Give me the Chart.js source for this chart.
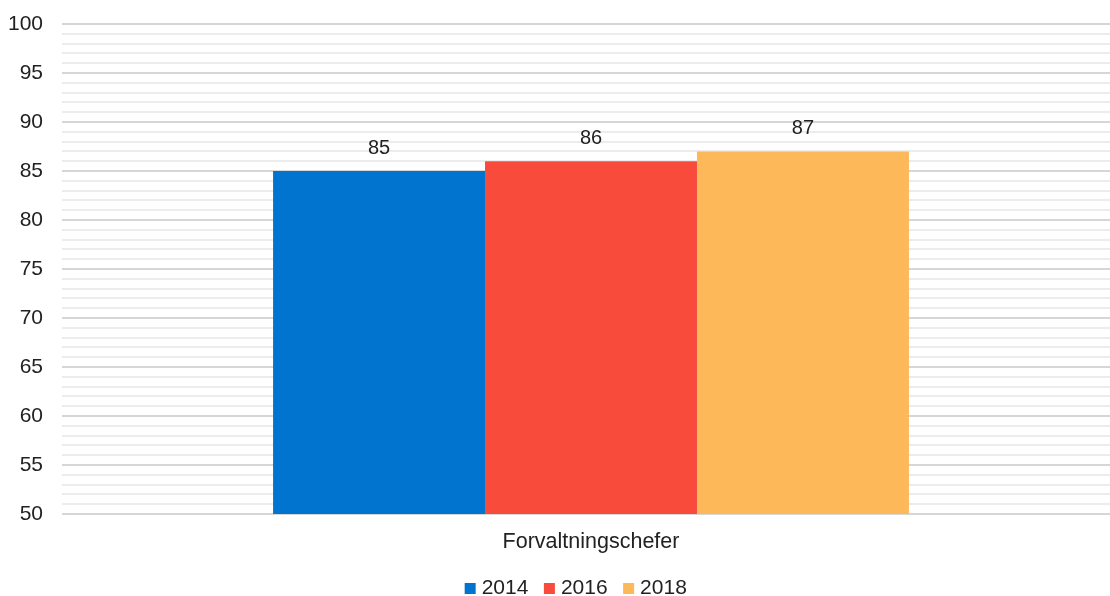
<!DOCTYPE html>
<html>
<head>
<meta charset="utf-8">
<script src="https://cdn.jsdelivr.net/npm/chart.js@4/dist/chart.umd.min.js"></script>
<style>
  html, body { margin: 0; padding: 0; background: #fff; overflow: hidden; }
  #wrap { width: 1110px; height: 596px; overflow: hidden; position: relative; }
  #chefer { position: absolute; left: 0; top: 0; }
</style>
</head>
<body>
<div id="wrap"><canvas id="chefer" width="1120" height="609"></canvas></div>
<script>
const categories = ['Forvaltningschefer'];
const years = ['2014', '2016', '2018'];
const values2014 = [85];
const values2016 = [86];
const values2018 = [87];
const yMin = 50;
const yMax = 100;

const colors = ['#0074CF', '#F84B3B', '#FDB85A'];
const seriesValues = [values2014, values2016, values2018];
const fontFamily = '"Liberation Sans", Arial, sans-serif';

// value labels above each bar
const barLabels = {
    id: 'barLabels',
    afterDatasetsDraw(chart) {
        const c = chart.ctx;
        c.save();
        c.font = '20px ' + fontFamily;
        c.fillStyle = '#222';
        c.textAlign = 'center';
        c.textBaseline = 'bottom';
        chart.data.datasets.forEach((ds, i) => {
            chart.getDatasetMeta(i).data.forEach((bar, j) => {
                c.fillText(ds.data[j], bar.x, bar.y - 13);
            });
        });
        c.restore();
    }
};

// nudge the legend row a little to the right
const legendShift = {
    id: 'legendShift',
    afterLayout(chart) {
        if (chart.legend) {
            chart.legend.left += 14;
            chart.legend.right += 14;
        }
    }
};

const ctx = document.getElementById('chefer');

const myChart = new Chart(ctx, {
    type: 'bar',
    data: {
        labels: categories,
        datasets: years.map((y, i) => ({
            label: y,
            data: seriesValues[i],
            backgroundColor: colors[i],
            borderWidth: 0,
            categoryPercentage: 0.601,
            barPercentage: 1.0
        }))
    },
    options: {
        responsive: false,
        animation: false,
        layout: { padding: { top: 24, right: 0, left: 8, bottom: 0 } },
        plugins: {
            legend: {
                position: 'bottom',
                labels: {
                    usePointStyle: true,
                    pointStyle: 'rect',
                    boxWidth: 2,
                    boxHeight: 11,
                    padding: 20,
                    color: '#222',
                    font: { size: 21, family: fontFamily }
                }
            },
            tooltip: { enabled: false }
        },
        scales: {
            x: {
                grid: { display: false, drawTicks: false },
                border: { display: false },
                afterFit: (scale) => { scale.height = 44; },
                ticks: {
                    color: '#222',
                    padding: 15,
                    font: { size: 21.5, family: fontFamily }
                }
            },
            y: {
                min: yMin,
                max: yMax,
                border: { display: false },
                afterFit: (scale) => {
                    scale.width = 54;
                    scale.paddingTop = 0;
                    scale.paddingBottom = 0;
                },
                grid: {
                    drawTicks: false,
                    color: (c) => (c.tick && c.tick.value % 5 === 0) ? '#d6d6d6' : '#ececec',
                    lineWidth: 2
                },
                ticks: {
                    stepSize: 1,
                    autoSkip: false,
                    padding: 19,
                    color: '#222',
                    font: { size: 21, family: fontFamily },
                    callback: (v) => v % 5 === 0 ? v : ''
                }
            }
        }
    },
    plugins: [barLabels, legendShift]
});
</script>
</body>
</html>
